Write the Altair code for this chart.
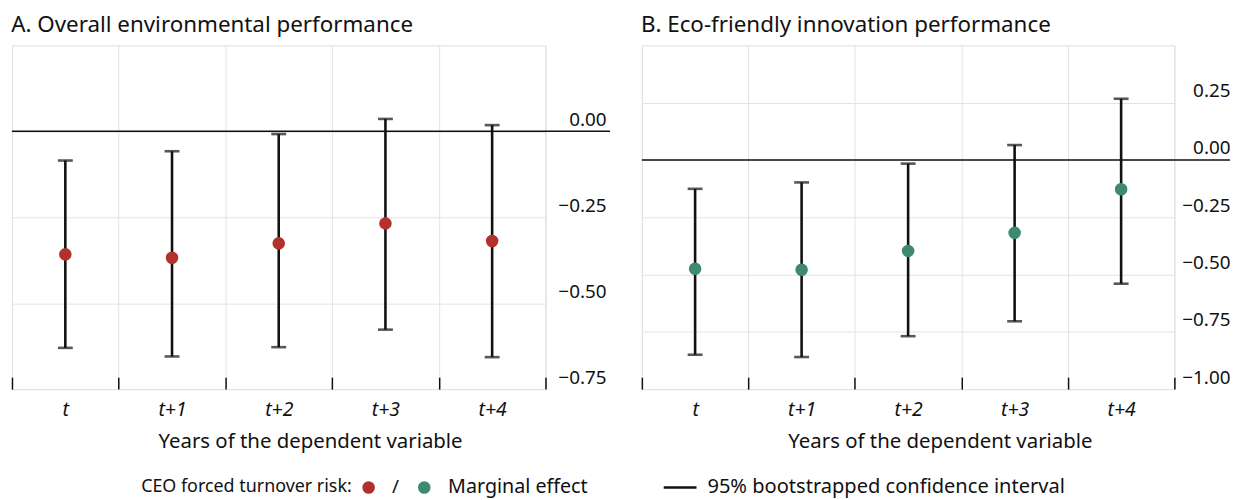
import altair as alt
import pandas as pd

periods = ["t", "t+1", "t+2", "t+3", "t+4"]

env_est = [-0.358, -0.368, -0.326, -0.268, -0.319]
env_lo = [-0.630, -0.655, -0.628, -0.577, -0.657]
env_hi = [-0.085, -0.058, -0.008, 0.036, 0.018]

eco_est = [-0.475, -0.479, -0.397, -0.318, -0.128]
eco_lo = [-0.850, -0.860, -0.769, -0.704, -0.540]
eco_hi = [-0.126, -0.098, -0.016, 0.065, 0.267]

env_ticks = [0.0, -0.25, -0.5, -0.75]
eco_ticks = [0.25, 0.0, -0.25, -0.5, -0.75, -1.0]

titles = ["A. Overall environmental performance", "B. Eco-friendly innovation performance"]
x_title = "Years of the dependent variable"
legend_left = ["CEO forced turnover risk:", "/", "Marginal effect"]
legend_right = ["95% bootstrapped confidence interval"]

RED = "#b3312d"
GREEN = "#3d8a6e"
INK = "#111111"
GRID = "#e3e3e3"
FONT = "Noto Sans"
H = 346
LEG_Y = H + 99


def panel(title, est, lo, hi, color, domain, ticks, legend, W, LP, RULE):
    df = pd.DataFrame({"period": periods, "est": est, "lo": lo, "hi": hi})
    x_axis = alt.Axis(
        title=x_title, tickBand="extent", grid=True, gridColor=GRID, domain=False,
        ticks=True, tickColor=INK, tickWidth=1.5, tickSize=12, offset=-12,
        labelAngle=0, labelFontStyle="italic", labelFontSize=19.5, labelColor=INK,
        labelPadding=12, titleFontSize=20.5, titleFontWeight="normal", titleColor=INK,
        titlePadding=12, titleX=300, titleAlign="center",
    )
    y_axis = alt.Axis(
        orient="right", values=ticks, format=".2f", grid=True, gridColor=GRID,
        domain=False, ticks=False, labelAlign="right", labelPadding=LP,
        labelBaseline="bottom", labelOffset=-2, labelFontSize=19, labelColor=INK,
        title=None,
    )
    xs = alt.Scale(paddingInner=0, paddingOuter=0)
    ys = alt.Scale(domain=domain, nice=False, zero=False)

    def X():
        return alt.X("period:N", sort=periods, scale=xs, axis=x_axis)

    def Y(f):
        return alt.Y(f + ":Q", scale=ys, axis=y_axis)

    base = alt.Chart(df)
    zero = alt.Chart(pd.DataFrame({"est": [0.0]})).mark_rule(
        color=INK, strokeWidth=1.5
    ).encode(y=Y("est"), x=alt.value(0), x2=alt.value(W + RULE))
    stem = base.mark_rule(color=INK, strokeWidth=2.6).encode(x=X(), y=Y("lo"), y2="hi:Q")
    cap_lo = base.mark_tick(color=INK, thickness=2.6, size=15).encode(x=X(), y=Y("lo"))
    cap_hi = base.mark_tick(color=INK, thickness=2.6, size=15).encode(x=X(), y=Y("hi"))
    pts = base.mark_circle(color=color, size=160, opacity=1).encode(x=X(), y=Y("est"))
    return alt.layer(zero, stem, cap_lo, cap_hi, pts, *legend).properties(
        width=W, height=H,
        title=alt.TitleParams(title, anchor="start", fontSize=22.5, fontWeight="normal",
                              font=FONT, color=INK, offset=9),
    )


def txt(s, xpos, size=20, align="left"):
    return alt.Chart(pd.DataFrame({"s": [s]})).mark_text(
        align=align, baseline="middle", fontSize=size, font=FONT, color=INK
    ).encode(text="s:N", x=alt.value(xpos), y=alt.value(LEG_Y))


def dot(c, xpos):
    return alt.Chart(pd.DataFrame({"s": [0]})).mark_circle(
        color=c, size=160, opacity=1
    ).encode(x=alt.value(xpos), y=alt.value(LEG_Y))


leg_l = [
    txt(legend_left[0], 130, 18),
    dot(RED, 359),
    txt(legend_left[1], 386, 19, "center"),
    dot(GREEN, 415),
    txt(legend_left[2], 439, 19.8),
]
leg_r = [
    alt.Chart(pd.DataFrame({"s": [0]})).mark_rule(color=INK, strokeWidth=2.6).encode(
        x=alt.value(22), x2=alt.value(55), y=alt.value(LEG_Y)
    ),
    txt(legend_right[0], 66, 20.2),
]

left = panel(titles[0], env_est, env_lo, env_hi, RED, [-0.75, 0.25], env_ticks, leg_l,
             W=537, LP=61, RULE=65)
right = panel(titles[1], eco_est, eco_lo, eco_hi, GREEN, [-1.0, 0.5], eco_ticks, leg_r,
              W=536, LP=56, RULE=56)

chart = alt.hconcat(left, right, spacing=28).properties(
    padding={"left": 2, "top": 4, "right": 0, "bottom": 0}
).configure_view(stroke=GRID, strokeWidth=1).configure(font=FONT).resolve_scale(y="independent")

chart.save("out.html", embed_options={"renderer": "svg", "actions": False})
